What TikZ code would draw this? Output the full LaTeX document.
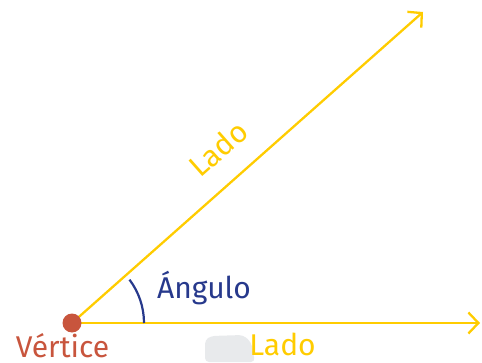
\documentclass[tikz,border=0pt]{standalone}
\usepackage{fontspec}
\setmainfont{Fira Sans}
\usepackage{tikz}
\usetikzlibrary{arrows.meta,calc}
\definecolor{ladoyellow}{HTML}{FFCC00}
\definecolor{anguloblue}{HTML}{27398C}
\definecolor{verticered}{HTML}{C8553D}
\definecolor{blobgray}{HTML}{E8EAEC}

\begin{document}
\begin{tikzpicture}[x=1pt, y=1pt,
  side/.style={draw=ladoyellow, line width=2.3pt,
               -{Straight Barb[length=10pt, width=21pt, line width=2.3pt]}},
  dot/.style={circle, fill=verticered, inner sep=0pt, minimum size=19pt},
  lbl/.style={font=\fontsize{30}{33}\selectfont, inner sep=0pt},
  angarc/.style={draw=anguloblue, line width=2.2pt}]
\useasboundingbox (0,0) rectangle (482,362);
\fill[blobgray, rounded corners=4pt] (205,0) -- (205,22) -- (211,26) -- (243,27)
   -- (251,20) -- (255,0) -- cycle;
\coordinate (o) at (72,39);
\coordinate (endA) at (480,39);
\coordinate (endB) at (423,350);
\draw[side] (o) -- (endA);
\draw[side] (o) -- node[lbl, text=ladoyellow, sloped, pos=0.48, above=21pt] (ladoB) {Lado} (endB);
\draw[angarc] ($(o)+(72,0)$) arc[start angle=0, end angle=37, radius=72];
\node[dot] (vtx) at (o) {};
\node[lbl, text=verticered, anchor=base] (vert) at (62.5,5) {Vértice};
\node[lbl, text=anguloblue, anchor=base] (ang) at (204,64) {Ángulo};
\node[lbl, text=ladoyellow, anchor=base] (ladoA) at (282.5,7) {Lado};
\end{tikzpicture}
\end{document}
